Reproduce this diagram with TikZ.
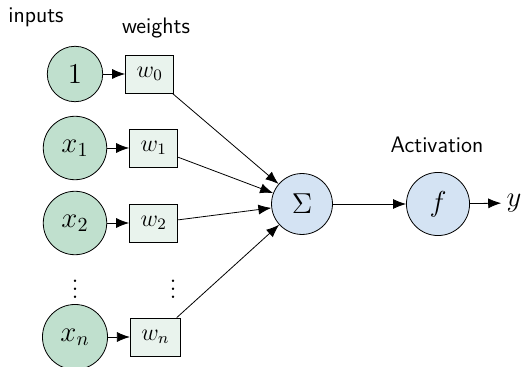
\documentclass[tikz,border=0pt]{standalone}
\usetikzlibrary{arrows.meta,positioning}
\definecolor{ingreen}{RGB}{192,224,206}
\definecolor{wgreen}{RGB}{233,243,237}
\definecolor{sblue}{RGB}{212,227,243}
\begin{document}
\begin{tikzpicture}[x=0.5pt,y=-0.5pt,
  inp/.style={circle,draw,fill=ingreen,inner sep=5.7pt,font=\fontsize{14.4}{16}\selectfont},
  wbox/.style={rectangle,draw,fill=wgreen,inner sep=5.5pt,minimum height=19pt,font=\fontsize{12}{14}\selectfont},
  sumc/.style={circle,draw,fill=sblue,inner sep=5.8pt,font=\fontsize{14.4}{16}\selectfont},
  lbl/.style={font=\sffamily\fontsize{11.2}{13}\selectfont},
  arr/.style={-{Latex[length=6.5pt,width=5pt]}},
  dotsn/.style={font=\fontsize{15}{17}\selectfont,inner sep=0pt}]
\useasboundingbox (0,0) rectangle (522,367);
\node[inp] (i0) at (75,74) {$1$};
\node[inp] (i1) at (75,148) {$x_1$};
\node[inp] (i2) at (75,223) {$x_2$};
\node[inp] (in) at (75,337) {$x_n$};
\node[wbox,right=11pt of i0] (w0) {$w_0$};
\node[wbox,right=11pt of i1] (w1) {$w_1$};
\node[wbox,right=11pt of i2] (w2) {$w_2$};
\node[wbox,right=11pt of in] (wn) {$w_n$};
\node[dotsn] (d1) at (75,283) {$\vdots$};
\node[dotsn] (d2) at (173,283) {$\vdots$};
\node[sumc] (s) at (302,204) {$\Sigma$};
\node[sumc] (f) at (438,204) {$f$};
\node[font=\fontsize{14.4}{16}\selectfont,inner sep=2.5pt] (y) at (514,203) {$y$};
\node[lbl] (linp) at (36,17) {inputs};
\node[lbl] (lw) at (156,28) {weights};
\node[lbl] (lact) at (437,145) {Activation};
\foreach \a/\b in {i0/w0,i1/w1,i2/w2,in/wn} \draw[arr] (\a) -- (\b);
\foreach \a in {w0,w1,w2,wn} \draw[arr] (\a) -- (s);
\draw[arr] (s) -- (f);
\draw[arr] (f) -- (y);
\end{tikzpicture}
\end{document}
